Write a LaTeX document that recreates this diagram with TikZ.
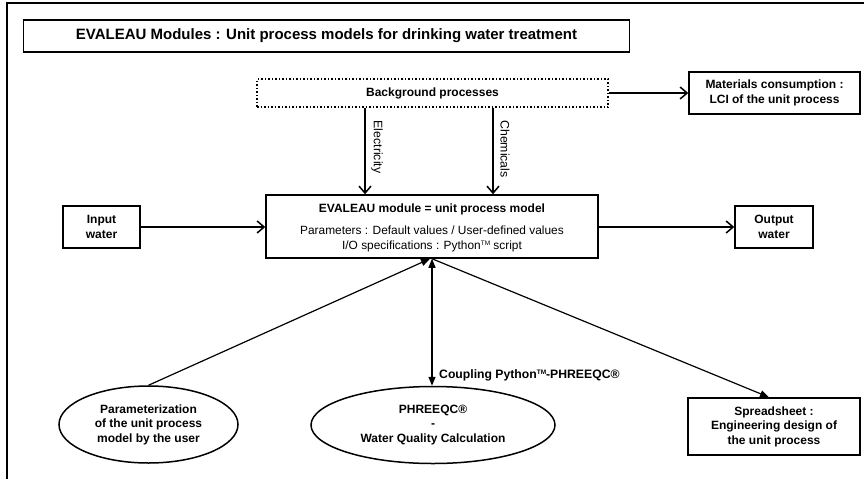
\documentclass[tikz,border=0pt]{standalone}
\usepackage{fontspec}
\setmainfont{Liberation Sans}
\usetikzlibrary{arrows.meta,shapes.geometric,calc}
\newcommand{\tmark}{\raisebox{0.5ex}{\fontsize{6.5}{7}\selectfont TM}}
\begin{document}
\begin{tikzpicture}[x=1pt,y=-1pt,
  box/.style={draw,line width=1.5pt,inner sep=0pt,align=center,font=\fontsize{12}{14.5}\selectfont\bfseries},
  oval/.style={draw,ellipse,line width=1.5pt,inner sep=0pt,align=center,font=\fontsize{12}{14.5}\selectfont\bfseries},
  flow/.style={line width=1.5pt,-{Straight Barb[length=7pt,width=12pt,line width=1.5pt]}},
  link/.style={line width=1.2pt,-{Triangle[length=9pt,width=7pt]}},
  lbl/.style={font=\fontsize{12.3}{14}\selectfont,inner sep=0pt},
  txt/.style={font=\fontsize{11.9}{15}\selectfont,inner sep=0pt,align=center}]
\useasboundingbox (0,0) rectangle (864,479);
\draw[line width=2.2pt] (7,479) -- (7,3) -- (864,3);
\node[box,minimum width=606pt,minimum height=32pt,font=\fontsize{15}{17}\selectfont\bfseries] (title) at (326.5,36) {EVALEAU Modules : Unit process models for drinking water treatment};
\node[box,dotted,line width=1.1pt,minimum width=351pt,minimum height=28pt] (bg) at (432.5,93) {Background processes};
\node[box,minimum width=171pt,minimum height=42pt] (mat) at (774.5,93) {Materials consumption :\\LCI of the unit process};
\node[box,minimum width=332pt,minimum height=63pt] (main) at (432,226.5) {};
\node[txt,font=\fontsize{12}{14.5}\selectfont\bfseries] (mt) at (432,209) {EVALEAU module = unit process model};
\node[txt] (mp) at (432,238.5) {Parameters : Default values / User-defined values\\I/O specifications : Python\tmark{} script};
\node[box,minimum width=77pt,minimum height=42pt] (in) at (101.5,227) {Input\\water};
\node[box,minimum width=78pt,minimum height=42pt] (out) at (774,227) {Output\\water};
\node[oval,minimum width=179pt,minimum height=77pt] (par) at (148.5,424.5) {Parameterization\\of the unit process\\model by the user};
\node[oval,minimum width=244pt,minimum height=77pt] (phr) at (433,425) {PHREEQC®\\-\\Water Quality Calculation};
\node[box,minimum width=172pt,minimum height=57pt] (spr) at (774,426.5) {Spreadsheet :\\Engineering design of\\the unit process};
\coordinate (ex) at (365,0);
\coordinate (cx) at (493,0);
\draw[flow] (bg.south -| ex) -- (main.north -| ex);
\draw[flow] (bg.south -| cx) -- (main.north -| cx);
\node[lbl,rotate=-90] (el) at (377,147) {Electricity};
\node[lbl,rotate=-90] (ch) at (505,149) {Chemicals};
\draw[flow] (bg.east) -- (mat.west);
\draw[flow] (in.east) -- (in.east -| main.west);
\draw[flow] (main.east |- out.west) -- (out.west);
\coordinate (hub) at ($(main.south)+(-2,0)$);
\draw[link] (par.north) -- (hub);
\draw[link,{Triangle[length=9pt,width=7pt]}-{Triangle[length=9pt,width=7pt]}] (main.south) -- (main.south |- phr.north);
\draw[link] (main.south) -- ($(spr.north)+(-5,0)$);
\node[lbl,font=\fontsize{12.2}{14}\selectfont\bfseries,anchor=west] (cpl) at (439,375) {Coupling Python\tmark-PHREEQC®};
\end{tikzpicture}
\end{document}
